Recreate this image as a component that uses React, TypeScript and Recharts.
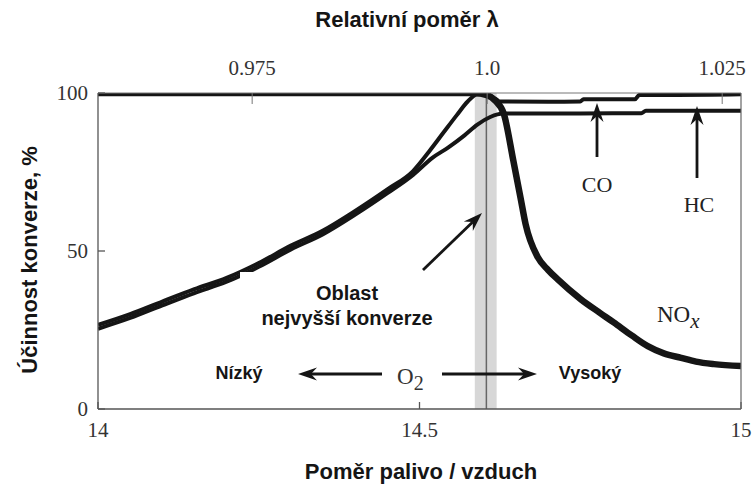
import React from "react"
import { LineChart, Line, XAxis, YAxis, ReferenceArea, ReferenceLine } from "recharts"

const W = 753
const H = 488
const PLOT = { left: 98, right: 741, top: 93, bottom: 409 }

const afrTicks = [14, 14.5, 15]
const lambdaTicks = [0.975, 1.0, 1.025]
const lambdaDomain = [0.9586, 1.027]
const effTicks = [0, 50, 100]

// NOx conversion (%) vs air/fuel ratio
const noxAfr = [14.0, 14.3, 14.585, 14.605, 14.618, 14.631, 14.646, 14.657, 14.665, 14.684, 14.7, 14.715, 14.751, 14.78, 14.802, 14.83, 14.855, 14.88, 14.907, 14.93, 14.958, 15.0]
const noxEff = [100, 100, 100, 99.3, 97.5, 93.5, 78.5, 67, 58.5, 48, 44, 41, 34.7, 30.5, 27.4, 23.3, 19.9, 17.6, 16.2, 15.0, 14.2, 13.6]

// CO conversion
const coAfr = [14.0, 14.05, 14.1, 14.15, 14.2, 14.25, 14.3, 14.35, 14.4, 14.45, 14.49, 14.515, 14.537, 14.558, 14.575, 14.59, 14.605, 14.618, 14.625, 14.7, 14.75, 14.755, 14.835, 14.842, 14.9, 15.0]
const coEff = [26.6, 30.0, 34.0, 37.9, 41.5, 46.2, 51.7, 56.5, 62.7, 69.5, 75.3, 81.5, 87.4, 93.0, 97.3, 99.6, 99.6, 98.2, 97.3, 97.2, 97.3, 98.0, 98.0, 99.4, 99.4, 99.6]

// HC conversion
const hcAfr = [14.0, 14.05, 14.1, 14.15, 14.2, 14.25, 14.3, 14.35, 14.4, 14.45, 14.49, 14.52, 14.545, 14.57, 14.59, 14.61, 14.63, 14.7, 14.8, 14.845, 14.852, 14.95, 15.0]
const hcEff = [25.4, 28.8, 32.8, 36.7, 40.3, 45.0, 50.5, 55.3, 61.5, 68.3, 74.1, 79.5, 82.8, 86.6, 90.0, 92.4, 93.5, 93.5, 93.6, 93.6, 94.4, 94.4, 94.4]

const bestBand = [14.586, 14.62]
const stoichAfr = 14.604

const toPoints = (xs: number[], ys: number[]) => xs.map((afr, i) => ({ afr, eff: ys[i] }))

const SANS = "'Liberation Sans', Arial, sans-serif"
const SERIF = "'Liberation Serif', 'Times New Roman', serif"
const INK = "#151515"
const AXIS = "#555"

function Arrow({ x1, y1, x2, y2, w = 2.8, head = 19, spread = 6.5 }: any) {
  const dx = x2 - x1
  const dy = y2 - y1
  const len = Math.hypot(dx, dy)
  const ux = dx / len
  const uy = dy / len
  const nx = -uy
  const ny = ux
  const bx = x2 - ux * head
  const by = y2 - uy * head
  const kx = x2 - ux * head * 0.68
  const ky = y2 - uy * head * 0.68
  const pts = [
    [x2, y2],
    [bx + nx * spread, by + ny * spread],
    [kx, ky],
    [bx - nx * spread, by - ny * spread],
  ]
  return (
    <g>
      <line x1={x1} y1={y1} x2={kx} y2={ky} stroke={INK} strokeWidth={w} />
      <polygon points={pts.map(p => p.join(",")).join(" ")} fill={INK} />
    </g>
  )
}

function Overlay() {
  return (
    <svg width={W} height={H} style={{ position: "absolute", left: 0, top: 0, pointerEvents: "none" }}>
      {/* white label box that hides part of the curve */}
      <rect x={240} y={272} width={200} height={62} fill="#fff" />

      <text x={407} y={27} textAnchor="middle" fontFamily={SANS} fontWeight="bold" fontSize={22} fill={INK}>
        Relativní poměr λ
      </text>
      <text x={421} y={479} textAnchor="middle" fontFamily={SANS} fontWeight="bold" fontSize={22} fill={INK}>
        Poměr palivo / vzduch
      </text>
      <text x={37} y={260} textAnchor="middle" fontFamily={SANS} fontWeight="bold" fontSize={22} fill={INK}
        transform="rotate(-90, 37, 260)">
        Účinnost konverze, %
      </text>

      <text x={347} y={300} textAnchor="middle" fontFamily={SANS} fontWeight="bold" fontSize={20} fill={INK}>Oblast</text>
      <text x={347} y={325} textAnchor="middle" fontFamily={SANS} fontWeight="bold" fontSize={20} fill={INK}>nejvyšší konverze</text>
      <text x={239} y={379} textAnchor="middle" fontFamily={SANS} fontWeight="bold" fontSize={18} fill={INK}>Nízký</text>
      <text x={590} y={379} textAnchor="middle" fontFamily={SANS} fontWeight="bold" fontSize={18} fill={INK}>Vysoký</text>

      <text x={397} y={384} fontFamily={SERIF} fontSize={23} fill="#333">
        O<tspan dy={6} fontSize={20}>2</tspan>
      </text>
      <text x={597} y={192} textAnchor="middle" fontFamily={SERIF} fontSize={22} fill="#222">CO</text>
      <text x={699} y={212} textAnchor="middle" fontFamily={SERIF} fontSize={22} fill="#222">HC</text>
      <text x={657} y={322} fontFamily={SERIF} fontSize={23} fill="#222">
        NO<tspan dy={6} fontStyle="italic" fontSize={21}>x</tspan>
      </text>

      <Arrow x1={382} y1={374} x2={298} y2={374} />
      <Arrow x1={442} y1={374} x2={537} y2={374} />
      <Arrow x1={423} y1={270} x2={482} y2={213} />
      <Arrow x1={597} y1={157} x2={597} y2={103} />
      <Arrow x1={697} y1={178} x2={697} y2={106} />
    </svg>
  )
}

export default function App() {
  const nox = toPoints(noxAfr, noxEff)
  const co = toPoints(coAfr, coEff)
  const hc = toPoints(hcAfr, hcEff)
  // invisible carrier so the top λ axis gets a scale
  const lambdaCarrier = lambdaTicks.map(lam => ({ lam, eff: 50 }))

  return (
    <div style={{ position: "absolute", left: 0, top: 0, width: W, height: H, background: "#fff" }}>
      <LineChart width={W} height={H} margin={{ top: 0, right: 0, bottom: 0, left: 0 }}>
        <XAxis
          xAxisId="b"
          type="number"
          dataKey="afr"
          domain={[14, 15]}
          ticks={afrTicks}
          allowDataOverflow
          height={H - PLOT.bottom}
          stroke={AXIS}
          strokeWidth={1.3}
          tickSize={-7}
          tickMargin={20}
          tick={{ fontFamily: SERIF, fontSize: 21, fill: "#333" }}
        />
        <XAxis
          xAxisId="t"
          orientation="top"
          type="number"
          dataKey="lam"
          domain={lambdaDomain}
          ticks={lambdaTicks}
          allowDataOverflow
          height={PLOT.top}
          stroke="#777"
          strokeWidth={1}
          tickSize={-11}
          tickMargin={29}
          tickFormatter={(v: number) => (v === 1 ? "1.0" : String(v))}
          tick={{ fontFamily: SERIF, fontSize: 21, fill: "#333" }}
        />
        <YAxis
          yAxisId="l"
          type="number"
          domain={[0, 100]}
          ticks={effTicks}
          allowDataOverflow
          width={PLOT.left}
          stroke={AXIS}
          strokeWidth={1.3}
          tickSize={-7}
          tickMargin={17}
          tick={{ fontFamily: SERIF, fontSize: 21, fill: "#333" }}
        />
        <YAxis
          yAxisId="r"
          orientation="right"
          type="number"
          domain={[0, 100]}
          allowDataOverflow
          width={W - PLOT.right}
          stroke="#666"
          strokeWidth={1.2}
          tick={false}
          tickLine={false}
        />

        <ReferenceArea xAxisId="b" yAxisId="l" x1={bestBand[0]} x2={bestBand[1]} y1={0} y2={100}
          fill="#d7d7d7" fillOpacity={1} stroke="none" />
        <ReferenceLine xAxisId="b" yAxisId="l" x={stoichAfr} stroke="#666" strokeWidth={1.5} />

        <Line xAxisId="t" yAxisId="l" data={lambdaCarrier} dataKey="eff" stroke="none" strokeOpacity={0}
          dot={false} activeDot={false} isAnimationActive={false} legendType="none" />
        <Line xAxisId="b" yAxisId="l" data={hc} dataKey="eff" type="monotone" stroke={INK}
          strokeWidth={4} dot={false} activeDot={false} isAnimationActive={false} />
        <Line xAxisId="b" yAxisId="l" data={co} dataKey="eff" type="monotone" stroke={INK}
          strokeWidth={4} dot={false} activeDot={false} isAnimationActive={false} />
        <Line xAxisId="b" yAxisId="l" data={nox} dataKey="eff" type="monotone" stroke={INK}
          strokeWidth={6.5} dot={false} activeDot={false} isAnimationActive={false} />
      </LineChart>
      <Overlay />
    </div>
  )
}
